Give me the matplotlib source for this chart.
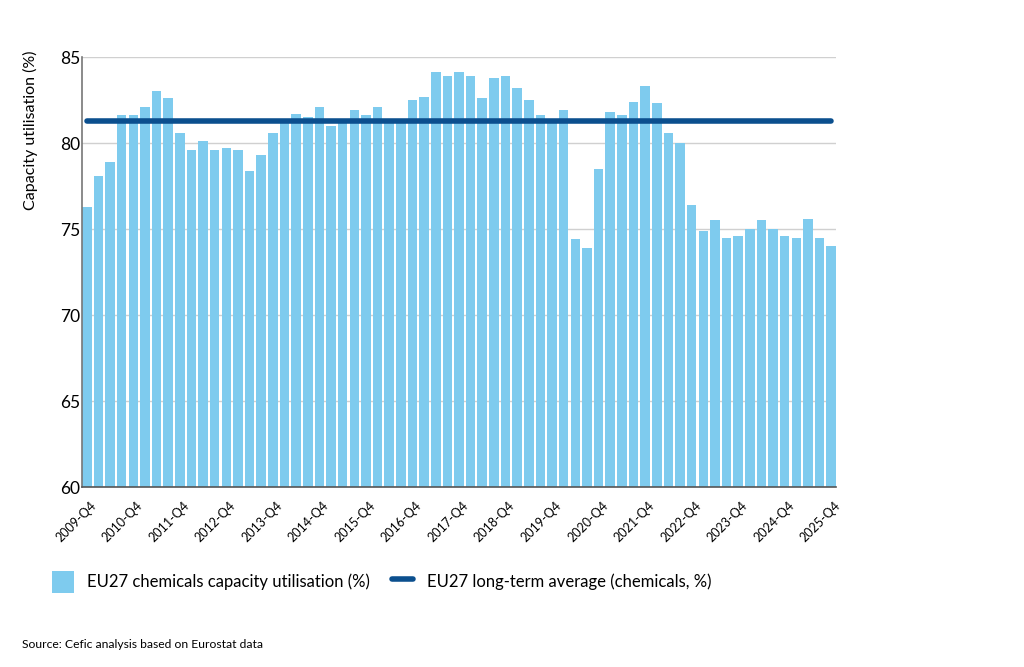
import matplotlib
matplotlib.use('Agg')
import matplotlib.pyplot as plt
import matplotlib.transforms as mtransforms
import numpy as np

plt.rcParams['font.family'] = ['Lato', 'DejaVu Sans']

quarters = [f'{y}-Q{q}' for y in range(2009, 2026) for q in range(1, 5)][3:]

utilisation = [
    76.3, 78.1, 78.9, 81.6, 81.6, 82.1, 83.0, 82.6, 80.6, 79.6,
    80.1, 79.6, 79.7, 79.6, 78.4, 79.3, 80.6, 81.2, 81.7, 81.5,
    82.1, 81.0, 81.2, 81.9, 81.6, 82.1, 81.2, 81.2, 82.5, 82.7,
    84.1, 83.9, 84.1, 83.9, 82.6, 83.8, 83.9, 83.2, 82.5, 81.6,
    81.3, 81.9, 74.4, 73.9, 78.5, 81.8, 81.6, 82.4, 83.3, 82.3,
    80.6, 80.0, 76.4, 74.9, 75.5, 74.5, 74.6, 75.0, 75.5, 75.0,
    74.6, 74.5, 75.6, 74.5, 74.0,
]
long_term_avg = 81.3

bar_color = '#7ECBEE'
line_color = '#0B4F8E'

fig = plt.figure(figsize=(10.24, 6.67), dpi=100)
ax = fig.add_axes([82 / 1024, 1 - 487 / 667, 754 / 1024, 430 / 667])

x = np.arange(len(utilisation))
w = 0.82
bars = ax.bar(x, utilisation, width=w, color=bar_color, zorder=2,
              label='EU27 chemicals capacity utilisation (%)')
avg_line, = ax.plot(x, [long_term_avg] * len(x), color=line_color, lw=4,
                    solid_capstyle='round', zorder=3,
                    label='EU27 long-term average (chemicals, %)')

ax.set_ylim(60, 85)
ax.set_xlim(-w / 2, len(x) - 1 + w / 2)
ax.set_yticks([60, 65, 70, 75, 80, 85])
ax.yaxis.grid(True, color='#d0d0d0', lw=1, zorder=0)
ax.set_axisbelow(True)

for s in ['top', 'right']:
    ax.spines[s].set_visible(False)
ax.spines['left'].set_color('#777777')
ax.spines['bottom'].set_color('#555555')
ax.spines['left'].set_linewidth(1.2)
ax.spines['bottom'].set_linewidth(1.2)

ticks = x[::4]
ax.set_xticks(ticks)
ax.set_xticklabels([quarters[i] for i in ticks], rotation=45, ha='right',
                   va='top', rotation_mode='anchor', fontsize=9)
ax.tick_params(axis='x', length=0, pad=9)
# nudge rotated labels a little to the right like the original
shift = mtransforms.ScaledTranslation(3 / 100, 0, fig.dpi_scale_trans)
for lab in ax.get_xticklabels():
    lab.set_transform(lab.get_transform() + shift)

ax.tick_params(axis='y', length=0, pad=1, labelsize=12.5)
ax.set_ylabel('Capacity utilisation (%)', fontsize=11.5)
ax.yaxis.set_label_coords(-0.058, 0.83)

fig.legend(handles=[bars, avg_line], loc='center left',
           bbox_to_anchor=(37 / 1024, 1 - 582 / 667), ncol=2, frameon=False,
           fontsize=12, handlelength=1.3, handleheight=1.7, columnspacing=1.3,
           handletextpad=0.8)

fig.text(22 / 1024, 1 - 644 / 667, 'Source: Cefic analysis based on Eurostat data',
         fontsize=8.7, va='center', ha='left')

fig.savefig('out.png', dpi=100)
